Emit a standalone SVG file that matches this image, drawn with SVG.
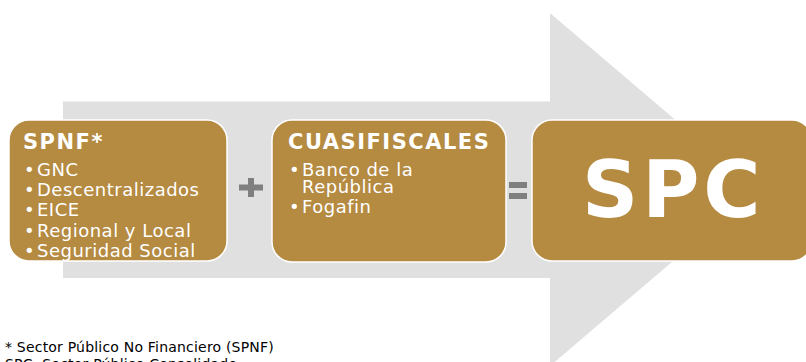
<svg xmlns="http://www.w3.org/2000/svg" width="806" height="362" viewBox="0 0 806 362">
<style>
.box{fill:#B58A41;stroke:#FFFFFF;stroke-width:1.5}
.t{font-family:"DejaVu Sans",Verdana,sans-serif;fill:#FFFFFF}
.h{font-size:21px;font-weight:bold;letter-spacing:1.5px}
.b{font-size:18px;letter-spacing:0.5px}
.op{fill:#7F7F7F}
.fn{font-family:"DejaVu Sans",Verdana,sans-serif;font-size:14px;letter-spacing:0.2px;fill:#000000}
</style>
<rect width="806" height="362" fill="#FFFFFF"/>
<g id="arrow">
<polygon points="63,101.5 550,101.5 550,13 757,189.5 550,366 550,278 63,278" fill="#E0E0E0"/>
</g>
<g id="spnf">
<rect class="box" x="9" y="120" width="218" height="141" rx="20"/>
<text class="t h" x="23" y="149">SPNF*</text>
<g class="t b">
<text x="24" y="176">•</text><text x="37" y="176">GNC</text>
<text x="24" y="196">•</text><text x="37" y="196">Descentralizados</text>
<text x="24" y="216">•</text><text x="37" y="216">EICE</text>
<text x="24" y="237">•</text><text x="37" y="237">Regional y Local</text>
<text x="24" y="257">•</text><text x="37" y="257">Seguridad Social</text>
</g>
</g>
<g id="cuasi">
<rect class="box" x="272" y="120" width="234" height="142" rx="20"/>
<text class="t h" x="288" y="149">CUASIFISCALES</text>
<g class="t b">
<text x="289" y="176">•</text><text x="302" y="176">Banco de la</text>
<text x="302" y="193">República</text>
<text x="289" y="213">•</text><text x="302" y="213">Fogafin</text>
</g>
</g>
<g id="spc">
<rect class="box" x="532" y="120" width="280" height="141" rx="20"/>
<text class="t" x="582" y="217" font-size="78" font-weight="bold" letter-spacing="4">SPC</text>
</g>
<g id="connectors">
<path class="op" d="M239,184.5h24v6h-24z M248,178h6v19h-6z"/>
<path class="op" d="M509,182h18v6h-18z M509,193h18v6h-18z"/>
</g>
<g id="footnote">
<text class="fn" x="5" y="352">* Sector Público No Financiero (SPNF)</text>
<text class="fn" x="5" y="369">SPC: Sector Público Consolidado</text>
</g>
</svg>
